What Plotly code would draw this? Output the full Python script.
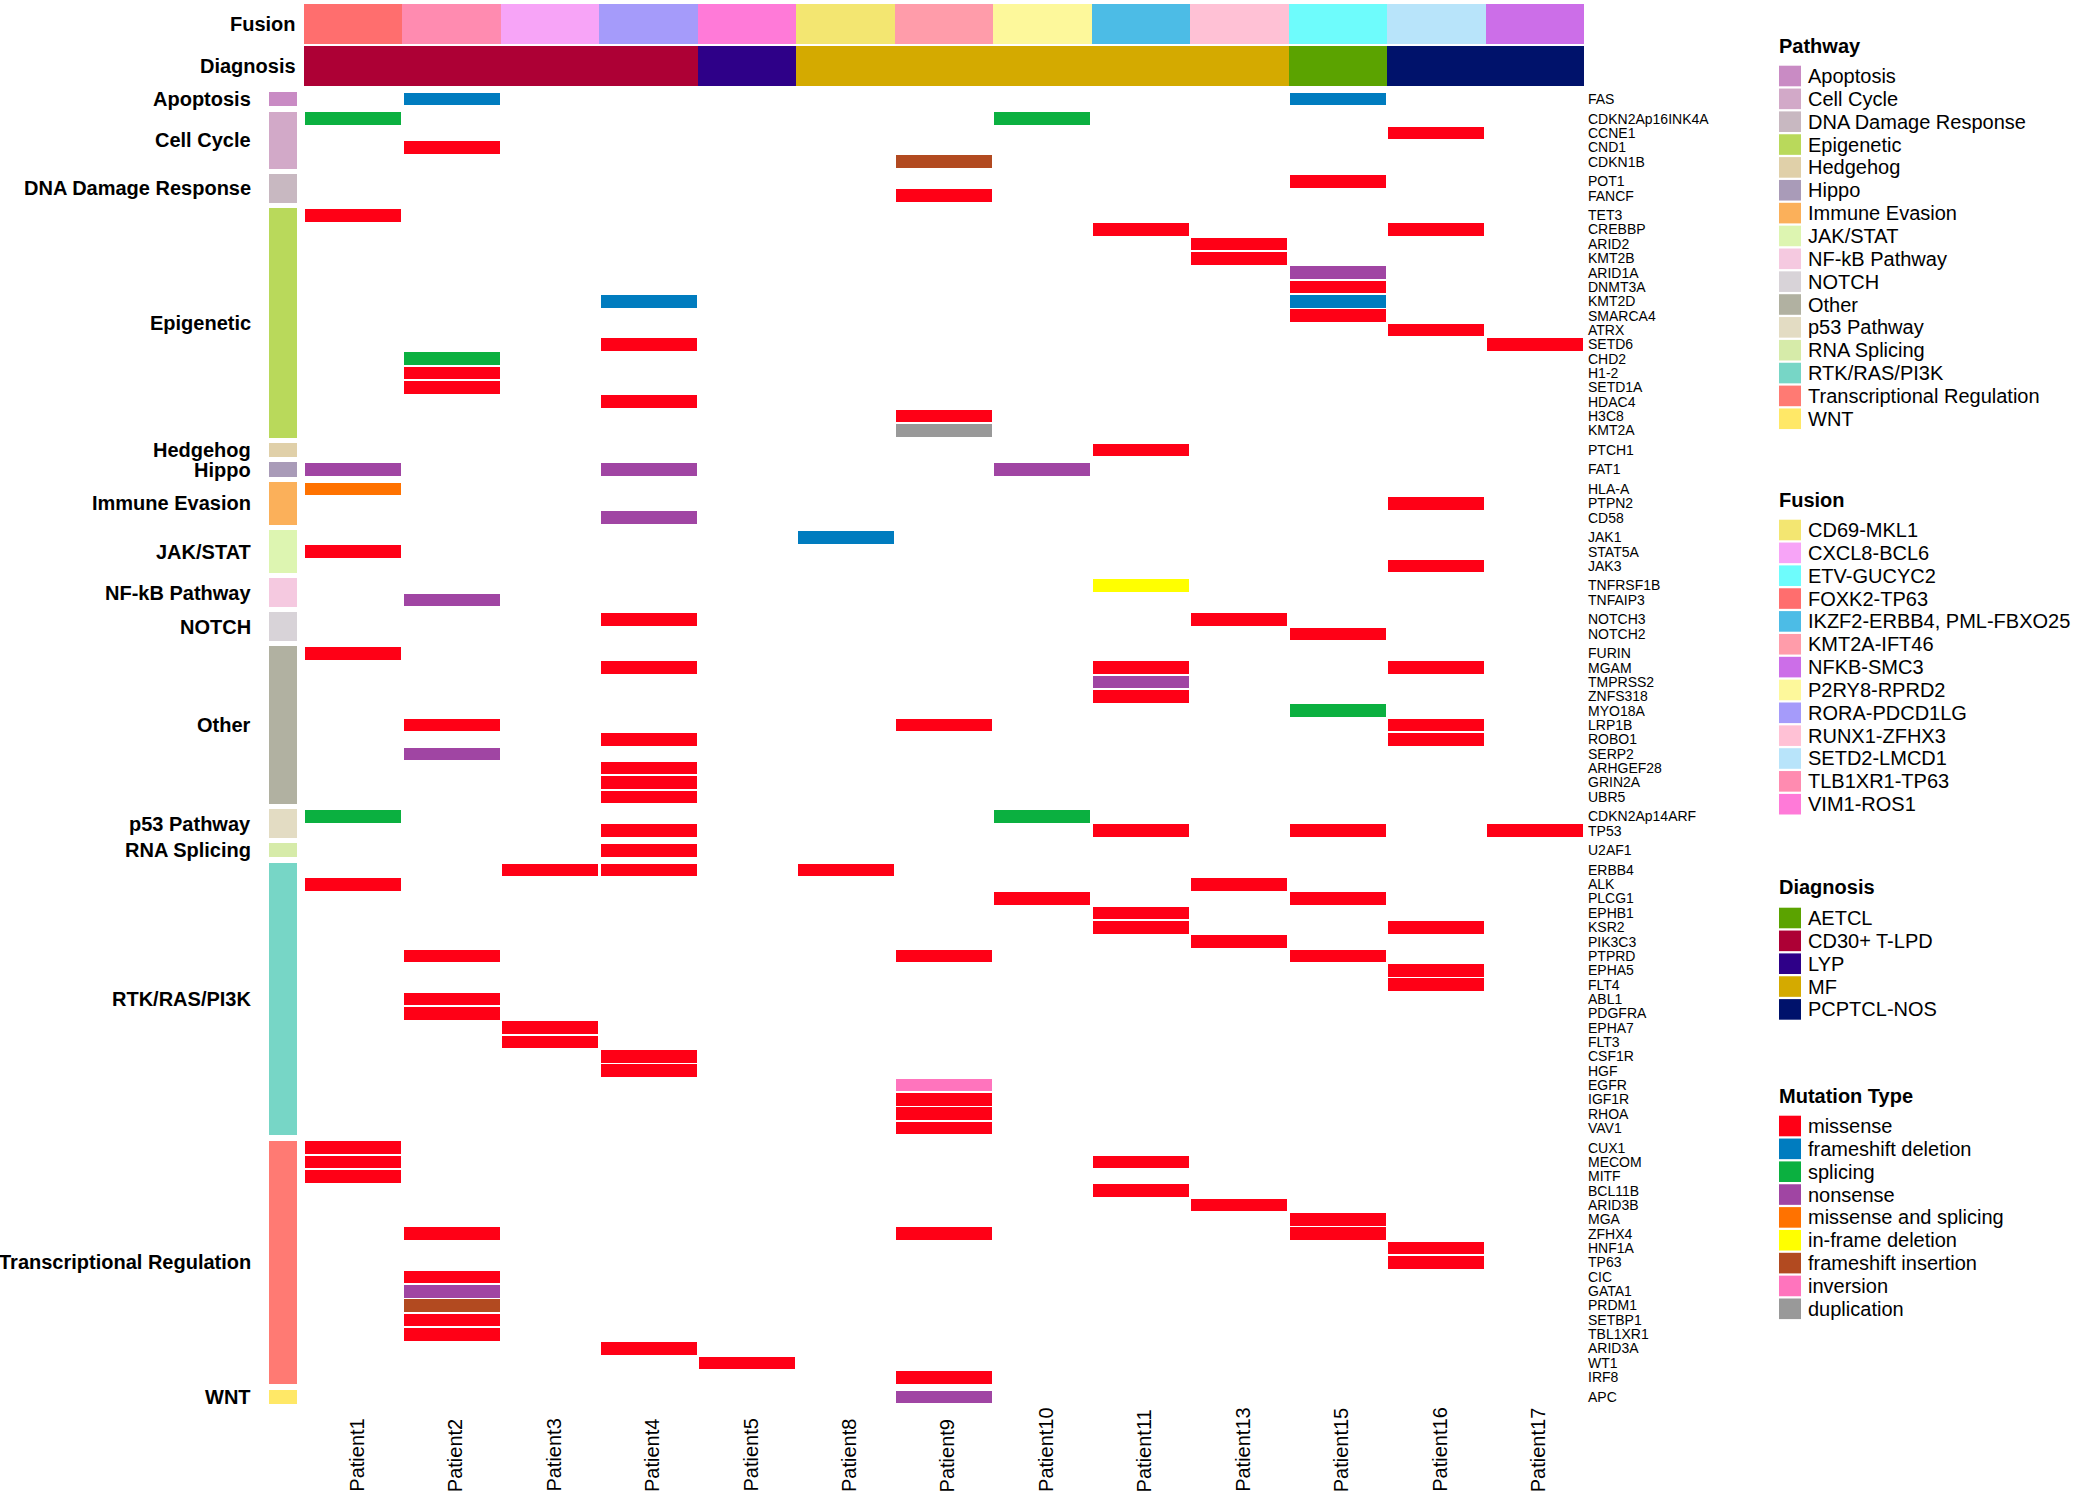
import plotly.graph_objects as go

# ---------------- data ----------------
patients = ["Patient1", "Patient2", "Patient3", "Patient4", "Patient5", "Patient8", "Patient9",
            "Patient10", "Patient11", "Patient13", "Patient15", "Patient16", "Patient17"]
fusion = ["FOXK2-TP63", "TLB1XR1-TP63", "CXCL8-BCL6", "RORA-PDCD1LG", "VIM1-ROS1", "CD69-MKL1",
          "KMT2A-IFT46", "P2RY8-RPRD2", "IKZF2-ERBB4, PML-FBXO25", "RUNX1-ZFHX3", "ETV-GUCYC2",
          "SETD2-LMCD1", "NFKB-SMC3"]
diagnosis = ["CD30+ T-LPD", "CD30+ T-LPD", "CD30+ T-LPD", "CD30+ T-LPD", "LYP", "MF", "MF", "MF",
             "MF", "MF", "AETCL", "PCPTCL-NOS", "PCPTCL-NOS"]

pathway_names = ["Apoptosis", "Cell Cycle", "DNA Damage Response", "Epigenetic", "Hedgehog", "Hippo",
                 "Immune Evasion", "JAK/STAT", "NF-kB Pathway", "NOTCH", "Other", "p53 Pathway",
                 "RNA Splicing", "RTK/RAS/PI3K", "Transcriptional Regulation", "WNT"]
pathway_genes = [
    ["FAS"],
    ["CDKN2Ap16INK4A", "CCNE1", "CND1", "CDKN1B"],
    ["POT1", "FANCF"],
    ["TET3", "CREBBP", "ARID2", "KMT2B", "ARID1A", "DNMT3A", "KMT2D", "SMARCA4", "ATRX", "SETD6",
     "CHD2", "H1-2", "SETD1A", "HDAC4", "H3C8", "KMT2A"],
    ["PTCH1"],
    ["FAT1"],
    ["HLA-A", "PTPN2", "CD58"],
    ["JAK1", "STAT5A", "JAK3"],
    ["TNFRSF1B", "TNFAIP3"],
    ["NOTCH3", "NOTCH2"],
    ["FURIN", "MGAM", "TMPRSS2", "ZNFS318", "MYO18A", "LRP1B", "ROBO1", "SERP2", "ARHGEF28",
     "GRIN2A", "UBR5"],
    ["CDKN2Ap14ARF", "TP53"],
    ["U2AF1"],
    ["ERBB4", "ALK", "PLCG1", "EPHB1", "KSR2", "PIK3C3", "PTPRD", "EPHA5", "FLT4", "ABL1", "PDGFRA",
     "EPHA7", "FLT3", "CSF1R", "HGF", "EGFR", "IGF1R", "RHOA", "VAV1"],
    ["CUX1", "MECOM", "MITF", "BCL11B", "ARID3B", "MGA", "ZFHX4", "HNF1A", "TP63", "CIC", "GATA1",
     "PRDM1", "SETBP1", "TBL1XR1", "ARID3A", "WT1", "IRF8"],
    ["APC"],
]

mut_types = ["missense", "frameshift deletion", "splicing", "nonsense", "missense and splicing",
             "in-frame deletion", "frameshift insertion", "inversion", "duplication"]

MS, FD, SP, NS, MSP, IFD, FI, INV, DUP = mut_types

mutations = {
    "Patient1": [("CDKN2Ap16INK4A", SP), ("TET3", MS), ("FAT1", NS), ("HLA-A", MSP), ("STAT5A", MS),
                 ("FURIN", MS), ("CDKN2Ap14ARF", SP), ("ALK", MS), ("CUX1", MS), ("MECOM", MS),
                 ("MITF", MS)],
    "Patient2": [("FAS", FD), ("CND1", MS), ("CHD2", SP), ("H1-2", MS), ("SETD1A", MS),
                 ("TNFAIP3", NS), ("LRP1B", MS), ("SERP2", NS), ("PTPRD", MS), ("ABL1", MS),
                 ("PDGFRA", MS), ("ZFHX4", MS), ("CIC", MS), ("GATA1", NS), ("PRDM1", FI),
                 ("SETBP1", MS), ("TBL1XR1", MS)],
    "Patient3": [("ERBB4", MS), ("EPHA7", MS), ("FLT3", MS)],
    "Patient4": [("KMT2D", FD), ("SETD6", MS), ("HDAC4", MS), ("FAT1", NS), ("CD58", NS),
                 ("NOTCH3", MS), ("MGAM", MS), ("ROBO1", MS), ("ARHGEF28", MS), ("GRIN2A", MS),
                 ("UBR5", MS), ("TP53", MS), ("U2AF1", MS), ("ERBB4", MS), ("CSF1R", MS),
                 ("HGF", MS), ("ARID3A", MS)],
    "Patient5": [("WT1", MS)],
    "Patient8": [("JAK1", FD), ("ERBB4", MS)],
    "Patient9": [("CDKN1B", FI), ("FANCF", MS), ("H3C8", MS), ("KMT2A", DUP), ("LRP1B", MS),
                 ("PTPRD", MS), ("EGFR", INV), ("IGF1R", MS), ("RHOA", MS), ("VAV1", MS),
                 ("ZFHX4", MS), ("IRF8", MS), ("APC", NS)],
    "Patient10": [("CDKN2Ap16INK4A", SP), ("FAT1", NS), ("CDKN2Ap14ARF", SP), ("PLCG1", MS)],
    "Patient11": [("CREBBP", MS), ("PTCH1", MS), ("TNFRSF1B", IFD), ("MGAM", MS), ("TMPRSS2", NS),
                  ("ZNFS318", MS), ("TP53", MS), ("EPHB1", MS), ("KSR2", MS), ("MECOM", MS),
                  ("BCL11B", MS)],
    "Patient13": [("ARID2", MS), ("KMT2B", MS), ("NOTCH3", MS), ("ALK", MS), ("PIK3C3", MS),
                  ("ARID3B", MS)],
    "Patient15": [("FAS", FD), ("POT1", MS), ("ARID1A", NS), ("DNMT3A", MS), ("KMT2D", FD),
                  ("SMARCA4", MS), ("NOTCH2", MS), ("MYO18A", SP), ("TP53", MS), ("PLCG1", MS),
                  ("PTPRD", MS), ("MGA", MS), ("ZFHX4", MS)],
    "Patient16": [("CCNE1", MS), ("CREBBP", MS), ("ATRX", MS), ("PTPN2", MS), ("JAK3", MS),
                  ("MGAM", MS), ("LRP1B", MS), ("ROBO1", MS), ("KSR2", MS), ("EPHA5", MS),
                  ("FLT4", MS), ("HNF1A", MS), ("TP63", MS)],
    "Patient17": [("SETD6", MS), ("TP53", MS)],
}

# ---------------- colours ----------------
pathway_colors = ["#C98BC4", "#D2A9C8", "#C8B8C1", "#B9D95B", "#E0D0A9", "#A99BB8", "#FBB05A",
                  "#DDF5B1", "#F5C9E0", "#D8D3D8", "#B1B1A1", "#E3DCC3", "#D6EBA9", "#77D6C6",
                  "#FF7A73", "#FFE867"]
fusion_legend = ["CD69-MKL1", "CXCL8-BCL6", "ETV-GUCYC2", "FOXK2-TP63", "IKZF2-ERBB4, PML-FBXO25",
                 "KMT2A-IFT46", "NFKB-SMC3", "P2RY8-RPRD2", "RORA-PDCD1LG", "RUNX1-ZFHX3",
                 "SETD2-LMCD1", "TLB1XR1-TP63", "VIM1-ROS1"]
fusion_colors = ["#F3E671", "#F7A4F7", "#6EFCFC", "#FF6E6E", "#4CBCE6", "#FF9CAA", "#CC6EE8",
                 "#FDF89B", "#A59BFA", "#FFC1D5", "#B8E4FA", "#FF8BB0", "#FF7AD8"]
diag_legend = ["AETCL", "CD30+ T-LPD", "LYP", "MF", "PCPTCL-NOS"]
diag_colors = ["#5BA300", "#AD0035", "#2E0088", "#D4AA00", "#00126B"]
mut_colors = ["#FF0016", "#007CBF", "#0BB040", "#A045A3", "#FF7200", "#FFFF00", "#B24A20",
              "#FF74BD", "#999999"]

# ---------------- geometry (pixels of the 2082x1494 canvas) ----------------
W, H = 2082, 1494
PLOT_L, PLOT_R, PLOT_T, PLOT_B = 269, 1584, 0, 1404
GRID_L = 304
ROW_H = 14.35
GROUP_GAP = 5.2 / ROW_H
COL_W = (PLOT_R - GRID_L) / len(patients)
FIRST_ROW_TOP = 92

def py_to_u(py):
    return (py - FIRST_ROW_TOP) / ROW_H - 0.5

def px_to_paper(px):
    return (px - PLOT_L) / (PLOT_R - PLOT_L)

def py_to_paper(py):
    return (PLOT_B - py) / (PLOT_B - PLOT_T)

x_min = -0.5 - (GRID_L - PLOT_L) / COL_W
side_w = 28 / COL_W

# gene row positions with gaps between pathway groups
genes, gene_y, group_center = [], {}, []
idx = 0
for k, glist in enumerate(pathway_genes):
    start = idx
    for g in glist:
        genes.append(g)
        gene_y[g] = idx + k * GROUP_GAP
        idx += 1
    group_center.append(start + k * GROUP_GAP + (len(glist) - 1) / 2)
y_bottom = idx - 0.5 + (len(pathway_genes) - 1) * GROUP_GAP
y_top = py_to_u(PLOT_T)

fig = go.Figure()

# pathway sidebar
fig.add_trace(go.Bar(
    orientation="h", y=group_center, x=[side_w] * len(pathway_names), base=[x_min] * len(pathway_names),
    width=[len(g) for g in pathway_genes], marker=dict(color=pathway_colors, line=dict(width=0)),
    showlegend=False, hoverinfo="skip"))

# fusion / diagnosis header rows
fus_c = (py_to_u(4) + py_to_u(44)) / 2
fus_h = py_to_u(44) - py_to_u(4)
dia_c = (py_to_u(46) + py_to_u(86)) / 2
dia_h = py_to_u(86) - py_to_u(46)
cols = list(range(len(patients)))
fig.add_trace(go.Bar(
    orientation="h", y=[fus_c] * len(cols), x=[1.0] * len(cols), base=[c - 0.5 for c in cols],
    width=fus_h, marker=dict(color=[fusion_colors[fusion_legend.index(f)] for f in fusion], line=dict(width=0)),
    showlegend=False, hovertext=fusion, hoverinfo="text"))
fig.add_trace(go.Bar(
    orientation="h", y=[dia_c] * len(cols), x=[1.0] * len(cols), base=[c - 0.5 for c in cols],
    width=dia_h, marker=dict(color=[diag_colors[diag_legend.index(d)] for d in diagnosis], line=dict(width=0)),
    showlegend=False, hovertext=diagnosis, hoverinfo="text"))

# mutation bars
BAR_W, BAR_H = 0.975, 0.88
for t, col in zip(mut_types, mut_colors):
    ys, bases, txt = [], [], []
    for c, p in enumerate(patients):
        for g, mt in mutations[p]:
            if mt == t:
                ys.append(gene_y[g])
                bases.append(c - BAR_W / 2)
                txt.append(f"{p} {g}: {t}")
    if ys:
        fig.add_trace(go.Bar(
            orientation="h", y=ys, x=[BAR_W] * len(ys), base=bases, width=BAR_H,
            marker=dict(color=col, line=dict(width=0)), name=t, showlegend=False,
            hovertext=txt, hoverinfo="text"))

FONT = "Liberation Sans, Arial, Helvetica, sans-serif"
annotations, shapes = [], []

# pathway labels
for name, yc in zip(pathway_names, group_center):
    annotations.append(dict(x=px_to_paper(253), xref="paper", y=yc, yref="y", text=f"<b>{name}</b>",
                            showarrow=False, xanchor="right", yanchor="middle",
                            font=dict(size=20, color="black", family=FONT)))
for name, yc in (("Fusion", fus_c), ("Diagnosis", dia_c)):
    annotations.append(dict(x=px_to_paper(298), xref="paper", y=yc, yref="y", text=f"<b>{name}</b>",
                            showarrow=False, xanchor="right", yanchor="middle",
                            font=dict(size=20, color="black", family=FONT)))

# patient (column) labels: rotated, bottom-aligned like the reference
for c, p in zip(cols, patients):
    annotations.append(dict(x=c + 0.03, xref="x", y=py_to_paper(1494), yref="paper", text=p,
                            showarrow=False, textangle=-90, xanchor="center", yanchor="bottom",
                            font=dict(size=20, color="black", family=FONT)))

# legends
legend_sections = [
    ("Pathway", 46, 76, pathway_names, pathway_colors),
    ("Fusion", 500, 530, fusion_legend, fusion_colors),
    ("Diagnosis", 887, 918, diag_legend, diag_colors),
    ("Mutation Type", 1096, 1126, mut_types, mut_colors),
]
PITCH = 22.85
for title, ty, iy, names, colors in legend_sections:
    annotations.append(dict(x=px_to_paper(1777), xref="paper", y=py_to_paper(ty), yref="paper",
                            text=f"<b>{title}</b>", showarrow=False, xanchor="left", yanchor="middle",
                            font=dict(size=20, color="black", family=FONT)))
    for i, (n, c) in enumerate(zip(names, colors)):
        cy = iy + i * PITCH
        shapes.append(dict(type="rect", xref="paper", yref="paper",
                           x0=px_to_paper(1779), x1=px_to_paper(1801),
                           y0=py_to_paper(cy - 10.3), y1=py_to_paper(cy + 10.3),
                           fillcolor=c, line=dict(width=0)))
        annotations.append(dict(x=px_to_paper(1806), xref="paper", y=py_to_paper(cy), yref="paper",
                                text=n, showarrow=False, xanchor="left", yanchor="middle",
                                font=dict(size=20, color="black", family=FONT)))

fig.update_layout(
    width=W, height=H, barmode="overlay", bargap=0,
    margin=dict(l=PLOT_L, r=W - PLOT_R, t=PLOT_T, b=H - PLOT_B, autoexpand=False),
    paper_bgcolor="white", plot_bgcolor="white",
    font=dict(family=FONT, color="black"),
    annotations=annotations, shapes=shapes, showlegend=False,
    xaxis=dict(range=[x_min, len(patients) - 0.5], showticklabels=False, showgrid=False,
               zeroline=False, showline=False, ticks="", automargin=False, fixedrange=True),
    yaxis=dict(range=[y_bottom, y_top], tickmode="array", tickvals=[gene_y[g] for g in genes],
               ticktext=genes, side="right", tickfont=dict(size=14, color="black"), showgrid=False,
               zeroline=False, showline=False, ticks="", ticklabelstandoff=3, automargin=False,
               fixedrange=True),
)

fig.write_html(
    "out.html",
    config={"displayModeBar": False},
    post_script="document.body.style.margin='0px';document.body.style.overflow='hidden';",
)
